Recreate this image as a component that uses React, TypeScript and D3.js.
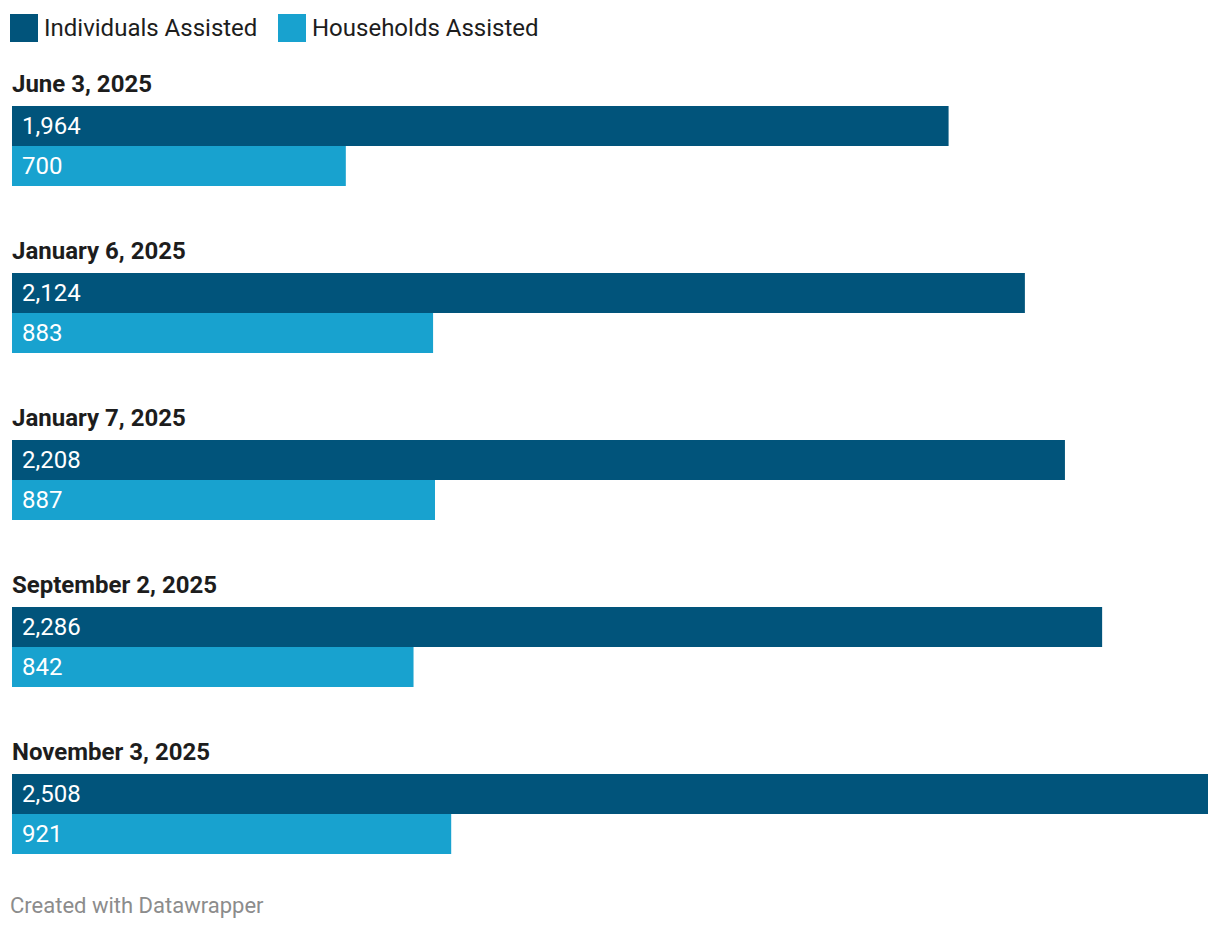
import * as d3 from "d3";

const dates = ["June 3, 2025", "January 6, 2025", "January 7, 2025", "September 2, 2025", "November 3, 2025"];
const series = ["Individuals Assisted", "Households Assisted"];
const individuals = [1964, 2124, 2208, 2286, 2508];
const households = [700, 883, 887, 842, 921];
const colors = ["#01547b", "#18a2cf"];

const WIDTH = 1220;
const HEIGHT = 930;
const FONT = "Roboto, sans-serif";

export default function App() {
  const x = d3.scaleLinear().domain([0, 2508]).range([12, 1208]);
  const group = d3.scaleBand<string>().domain(dates).range([106, 854]).paddingInner(87 / 167).paddingOuter(0);
  const inner = d3.scaleBand<string>().domain(series).range([0, group.bandwidth()]);
  const fmt = d3.format(",");

  const rows = dates.map((date, i) => ({ date, values: [individuals[i], households[i]] }));

  return (
    <svg width={WIDTH} height={HEIGHT} style={{ position: "absolute", left: 0, top: 0 }} fontFamily={FONT}>
      <rect width={WIDTH} height={HEIGHT} fill="#fff" />
      {/* legend */}
      {series.map((name, i) => {
        const lx = i === 0 ? 10 : 278;
        return (
          <g key={name}>
            <rect x={lx} y={14} width={28} height={28} fill={colors[i]} />
            <text x={lx + 34} y={35.5} fontSize={24} fill="#1d1d1d">
              {name}
            </text>
          </g>
        );
      })}
      {rows.map((row) => {
        const top = group(row.date) ?? 0;
        return (
          <g key={row.date}>
            <text x={12} y={top - 14.5} fontSize={24} fontWeight={700} fill="#1d1d1d">
              {row.date}
            </text>
            {row.values.map((v, j) => {
              const y = top + (inner(series[j]) ?? 0);
              return (
                <g key={j}>
                  <rect x={x(0)} y={y} width={x(v) - x(0)} height={inner.bandwidth()} fill={colors[j]} />
                  <text x={x(0) + 10} y={y + inner.bandwidth() / 2} dy="0.33em" fontSize={24} fill="#fff">
                    {fmt(v)}
                  </text>
                </g>
              );
            })}
          </g>
        );
      })}
      <text x={10} y={913} fontSize={22} fill="#8c8c8c">
        Created with Datawrapper
      </text>
    </svg>
  );
}
